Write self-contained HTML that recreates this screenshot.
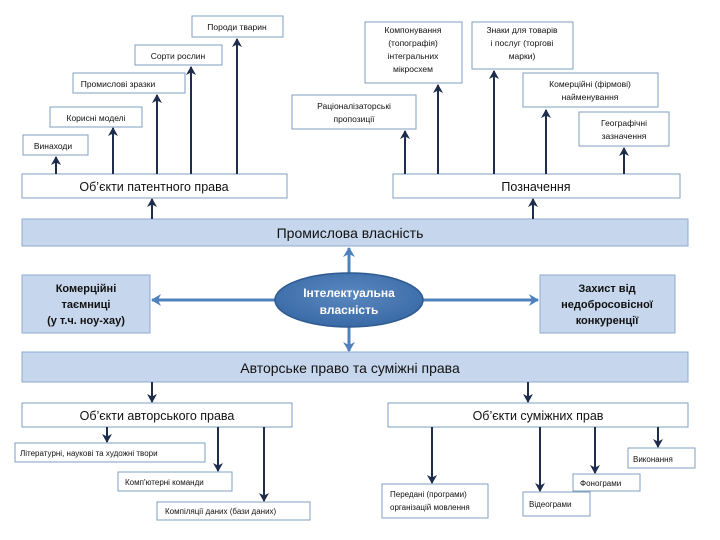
<!DOCTYPE html>
<html><head><meta charset="utf-8"><style>
html,body{margin:0;padding:0;background:#fff;}
svg{display:block;font-family:"Liberation Sans",sans-serif;}
</style></head><body>
<svg width="720" height="540" viewBox="0 0 720 540" xmlns="http://www.w3.org/2000/svg">
<defs>
<marker id="a" markerWidth="10" markerHeight="10" refX="8" refY="5" orient="auto" markerUnits="userSpaceOnUse">
<path d="M0,0 L9,5 L0,10 L2.5,5 z" fill="#1f2d4d"/></marker>
<marker id="b" markerWidth="12" markerHeight="12" refX="9" refY="6" orient="auto" markerUnits="userSpaceOnUse">
<path d="M0,0 L10,6 L0,12 L3,6 z" fill="#4f81bd"/></marker>
<radialGradient id="g" cx="50%" cy="40%" r="60%"><stop offset="0" stop-color="#5a88c0"/><stop offset="1" stop-color="#3a6aa6"/></radialGradient>
</defs>
<g fill="#fff" stroke="#7f9fbf" stroke-width="1">
<rect x="192" y="16" width="91" height="21"/>
<rect x="135" y="45" width="87" height="20"/>
<rect x="73" y="73" width="112" height="20"/>
<rect x="50" y="107" width="92" height="20"/>
<rect x="23" y="135" width="65" height="20"/>
<rect x="22" y="174" width="265" height="24"/>
<rect x="365" y="22" width="97" height="61"/>
<rect x="472" y="22" width="101" height="47"/>
<rect x="523" y="73" width="135" height="34"/>
<rect x="292" y="95" width="124" height="34"/>
<rect x="579" y="112" width="90" height="34"/>
<rect x="393" y="174" width="287" height="24"/>
<rect x="22" y="403" width="270" height="24"/>
<rect x="388" y="403" width="300" height="24"/>
<rect x="15" y="443" width="190" height="19"/>
<rect x="118" y="472" width="114" height="19"/>
<rect x="157" y="502" width="153" height="18"/>
<rect x="382" y="484" width="106" height="34"/>
<rect x="523" y="492" width="67" height="24"/>
<rect x="573" y="474" width="67" height="17"/>
<rect x="628" y="448" width="67" height="20"/>
</g>
<g fill="#c6d6ec" stroke="#8eaad0">
<rect x="22" y="219" width="666" height="27"/>
<rect x="22" y="352" width="666" height="30"/>
<rect x="22" y="275" width="128" height="58"/>
<rect x="540" y="275" width="135" height="58"/>
</g>
<g stroke="#1f2d4d" stroke-width="2" marker-end="url(#a)">
<line x1="56" y1="174" x2="56" y2="157"/>
<line x1="113" y1="174" x2="113" y2="128"/>
<line x1="157" y1="174" x2="157" y2="95"/>
<line x1="191" y1="174" x2="191" y2="67"/>
<line x1="237" y1="174" x2="237" y2="39"/>
<line x1="405" y1="174" x2="405" y2="131"/>
<line x1="438" y1="174" x2="438" y2="85"/>
<line x1="494" y1="174" x2="494" y2="71"/>
<line x1="546" y1="174" x2="546" y2="110"/>
<line x1="624" y1="174" x2="624" y2="148"/>
<line x1="152" y1="219" x2="152" y2="199"/>
<line x1="533" y1="219" x2="533" y2="199"/>
<line x1="152" y1="382" x2="152" y2="402"/>
<line x1="528" y1="382" x2="528" y2="402"/>
<line x1="107" y1="427" x2="107" y2="442"/>
<line x1="218" y1="427" x2="218" y2="471"/>
<line x1="264" y1="427" x2="264" y2="501"/>
<line x1="432" y1="427" x2="432" y2="483"/>
<line x1="540" y1="427" x2="540" y2="491"/>
<line x1="595" y1="427" x2="595" y2="473"/>
<line x1="658" y1="427" x2="658" y2="447"/>
</g>
<g stroke="#4f81bd" stroke-width="3" marker-end="url(#b)">
<line x1="349" y1="273" x2="349" y2="248"/>
<line x1="349" y1="327" x2="349" y2="351"/>
<line x1="276" y1="300" x2="152" y2="300"/>
<line x1="422" y1="300" x2="538" y2="300"/>
</g>
<ellipse cx="349" cy="300" rx="74" ry="27" fill="url(#g)" stroke="#2e5a90" stroke-width="1.5"/>
<g font-size="8.5" fill="#111" text-anchor="middle">
<text x="237" y="30">Породи тварин</text>
<text x="178" y="59">Сорти рослин</text>
<text x="118" y="87">Промислові зразки</text>
<text x="96" y="121">Корисні моделі</text>
<text x="53" y="149">Винаходи</text>
<text x="413" y="33">Компонування</text>
<text x="413" y="46">(топографія)</text>
<text x="413" y="59">інтегральних</text>
<text x="413" y="72">мікросхем</text>
<text x="522" y="33">Знаки для товарів</text>
<text x="522" y="46">і послуг (торгові</text>
<text x="522" y="59">марки)</text>
<text x="590" y="87">Комерційні (фірмові)</text>
<text x="590" y="100">найменування</text>
<text x="354" y="109">Раціоналізаторські</text>
<text x="354" y="122">пропозиції</text>
<text x="624" y="126">Географічні</text>
<text x="624" y="139">зазначення</text>
</g>
<g font-size="8" fill="#111">
<text x="20" y="456">Літературні, наукові та художні твори</text>
<text x="125" y="485">Комп'ютерні команди</text>
<text x="165" y="514">Компіляції даних (бази даних)</text>
<text x="390" y="497">Передані (програми)</text>
<text x="390" y="510">організацій мовлення</text>
<text x="529" y="507">Відеограми</text>
<text x="580" y="486">Фонограми</text>
<text x="633" y="462">Виконання</text>
</g>
<g font-size="12.5" fill="#111" text-anchor="middle">
<text x="154" y="191">Об’єкти патентного права</text>
<text x="536" y="191">Позначення</text>
<text x="157" y="420">Об’єкти авторського права</text>
<text x="538" y="420">Об’єкти суміжних прав</text>
</g>
<g font-size="14" fill="#111" text-anchor="middle">
<text x="350" y="238">Промислова власність</text>
<text x="350" y="373">Авторське право та суміжні права</text>
</g>
<g font-size="11" font-weight="bold" fill="#111" text-anchor="middle">
<text x="86" y="292">Комерційні</text>
<text x="86" y="308">таємниці</text>
<text x="86" y="324">(у т.ч. ноу-хау)</text>
<text x="607" y="292">Захист від</text>
<text x="607" y="308">недобросовісної</text>
<text x="607" y="324">конкуренції</text>
</g>
<g font-size="12" font-weight="bold" fill="#fff" text-anchor="middle">
<text x="349" y="297">Інтелектуальна</text>
<text x="349" y="314">власність</text>
</g>
</svg>
</body></html>
